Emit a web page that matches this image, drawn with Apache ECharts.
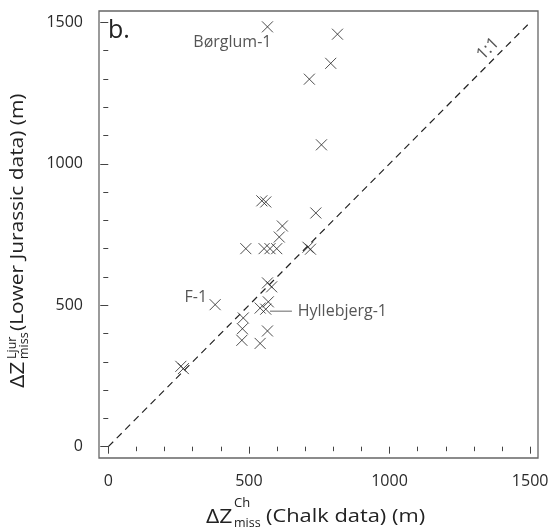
<!DOCTYPE html>
<html><head><meta charset="utf-8">
<script src="https://cdn.jsdelivr.net/npm/echarts@6/dist/echarts.min.js"></script>
<style>html,body{margin:0;padding:0;background:#fff}#c{width:552px;height:528px}</style>
</head><body><div id="c"></div>
<script>
// ---- data ----
var chalkX = [566, 815, 791, 715, 758, 546, 560, 738, 619, 608, 489, 554, 575, 599, 710, 719, 566, 581, 569, 540, 560, 380, 480, 477, 566, 475, 540, 258, 267];
var jurY   = [1484, 1458, 1355, 1299, 1067, 869, 865, 826, 780, 741, 700, 700, 700, 700, 705, 698, 579, 565, 512, 490, 486, 502, 455, 417, 409, 376, 365, 284, 276];
var wellNames = ['Børglum-1', '', '', '', '', '', '', '', '', '', '', '', '', '', '', '', '', '', '', '', 'Hyllebjerg-1', 'F-1', '', '', '', '', '', '', ''];
var majorTicks = [0, 500, 1000, 1500];
var minorTicks = [100, 200, 300, 400, 600, 700, 800, 900, 1100, 1200, 1300, 1400];
var oneToOne = [[0, 0], [1500, 1500]];
var leader = [[575, 479], [653, 479]];
var ratioLabelPos = [1350, 1406];

var FONT = 'Open Sans';
var labelStyle = {
  'Børglum-1': {position: 'inside', align: 'right', verticalAlign: 'middle', offset: [4, 16]},
  'Hyllebjerg-1': {position: 'inside', align: 'left', verticalAlign: 'middle', offset: [32, 2]},
  'F-1': {position: 'inside', align: 'right', verticalAlign: 'middle', offset: [-8, -7]}
};
var pts = chalkX.map(function (x, i) {
  var item = {value: [x, jurY[i]]};
  var n = wellNames[i];
  if (n) {
    var ls = labelStyle[n];
    item.label = {show: true, formatter: n, position: ls.position, align: ls.align,
      verticalAlign: ls.verticalAlign, offset: ls.offset, color: '#2a2a2a', fontSize: 16, fontFamily: FONT};
  }
  return item;
});

var chart = echarts.init(document.getElementById('c'), null, {renderer: 'canvas'});
function plain(v) { return String(v); }
function xAx(ticks, len, labels) {
  return {type: 'value', min: -33, max: 1528, position: 'bottom',
    axisLine: {show: false}, splitLine: {show: false},
    axisTick: {show: true, customValues: ticks, length: len, lineStyle: {color: '#444', width: 1}},
    axisLabel: {show: labels, customValues: ticks, formatter: plain, margin: 15, color: '#2a2a2a', fontSize: 16, fontFamily: FONT}};
}
function yAx(ticks, len, labels) {
  return {type: 'value', min: -40, max: 1540, position: 'left',
    axisLine: {show: false}, splitLine: {show: false},
    axisTick: {show: true, customValues: ticks, length: len, lineStyle: {color: '#444', width: 1}},
    axisLabel: {show: labels, customValues: ticks, formatter: plain, margin: 16, color: '#2a2a2a', fontSize: 16, fontFamily: FONT}};
}
var T = {fontFamily: FONT, fill: '#222', verticalAlign: 'middle'};
function st(text, size) { return Object.assign({text: text, fontSize: size}, T); }
var option = {
  animation: false,
  backgroundColor: '#fff',
  grid: {left: 99, top: 11, width: 439, height: 447, show: true, borderColor: '#666', borderWidth: 1.3, backgroundColor: 'transparent'},
  xAxis: [xAx(majorTicks, 7, true), xAx(minorTicks, 4.5, false)],
  yAxis: [yAx(majorTicks, 8, true), yAx(minorTicks, 5, false)],
  series: [
    {type: 'line', data: oneToOne, symbol: 'none', silent: true,
      lineStyle: {color: '#222', width: 1.2, type: [7, 5]}},
    {type: 'line', data: leader, symbol: 'none', silent: true,
      lineStyle: {color: '#666', width: 1}},
    {type: 'scatter', data: pts, symbol: 'path://M0,0L10,10M10,0L0,10', symbolSize: 11,
      itemStyle: {color: 'none', borderColor: '#222', borderWidth: 1}},
    {type: 'scatter', data: [{value: ratioLabelPos, label: {show: true, formatter: '1:1', rotate: 45,
      position: 'inside', color: '#2a2a2a', fontSize: 17, fontFamily: FONT}}], symbolSize: 0, silent: true}
  ],
  graphic: [
    {type: 'text', left: 108, top: 18, style: {text: 'b.', fontSize: 25, fontFamily: FONT, fill: '#222'}},
    // x axis title
    {type: 'text', x: 206, y: 517, scaleX: 1.15, style: st('ΔZ', 20)},
    {type: 'text', x: 234, y: 503, style: st('Ch', 13)},
    {type: 'text', x: 234, y: 523, style: st('miss', 12.5)},
    {type: 'text', x: 266, y: 517, scaleX: 1.15, style: st('(Chalk data) (m)', 19)},
    // y axis title
    {type: 'text', x: 18, y: 388, rotation: Math.PI / 2, scaleX: 1.15, style: st('ΔZ', 20)},
    {type: 'text', x: 12, y: 359, rotation: Math.PI / 2, style: st('Ljur', 12.5)},
    {type: 'text', x: 24, y: 359, rotation: Math.PI / 2, style: st('miss', 12.5)},
    {type: 'text', x: 18, y: 331, rotation: Math.PI / 2, scaleX: 1.1, style: st('(Lower Jurassic data) (m)', 19)}
  ]
};
chart.setOption(option);
</script></body></html>
